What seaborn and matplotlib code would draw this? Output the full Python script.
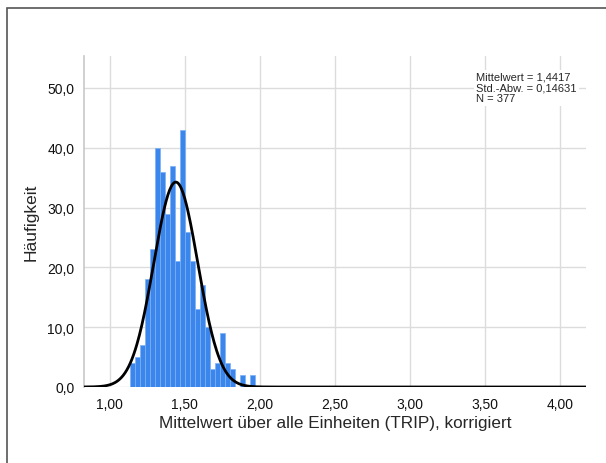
import numpy as np
import pandas as pd
import matplotlib.pyplot as plt
import seaborn as sns
from matplotlib.ticker import FuncFormatter
from matplotlib.patches import Rectangle

# Histogram of the mean values (bin width 1/30, first edge ~1.1333)
counts = [4, 5, 7, 18, 23, 40, 36, 29, 37, 21, 43, 26, 21,
          13, 17, 10, 3, 4, 9, 4, 3, 0, 2, 0, 2]
bin_start = 34 / 30
bin_width = 1 / 30

mean_val = 1.4417
std_val = 0.14631
n_val = 377

x_ticks = [1.0, 1.5, 2.0, 2.5, 3.0, 3.5, 4.0]
y_ticks = [0, 10, 20, 30, 40, 50]

edges = bin_start + bin_width * np.arange(len(counts) + 1)
centers = (edges[:-1] + edges[1:]) / 2
hist_df = pd.DataFrame({"x": centers, "n": counts})

# fitted normal curve, scaled to counts
xs = np.linspace(0.83, 4.18, 600)
ys = n_val * bin_width / (std_val * np.sqrt(2 * np.pi)) * np.exp(-0.5 * ((xs - mean_val) / std_val) ** 2)
curve_df = pd.DataFrame({"x": xs, "y": ys})

sns.set_style("white")
plt.rcParams["font.family"] = ["Liberation Sans", "DejaVu Sans"]

fig = plt.figure(figsize=(6.06, 4.64), dpi=100)
ax = fig.add_axes([84 / 606, 1 - 388 / 464, (586 - 84) / 606, (388 - 57) / 464])

sns.histplot(data=hist_df, x="x", weights="n", bins=edges.tolist(), stat="count",
             color="#3b86ec", edgecolor="#7db0f3", linewidth=0.5, alpha=1,
             ax=ax, zorder=2)
sns.lineplot(data=curve_df, x="x", y="y", color="black", linewidth=2.0,
             ax=ax, zorder=3)

ax.set_xlim(0.83, 4.175)
ax.set_ylim(0, 55.35)
ax.set_xticks(x_ticks)
ax.set_yticks(y_ticks)
ax.xaxis.set_major_formatter(FuncFormatter(lambda v, p: f"{v:.2f}".replace(".", ",")))
ax.yaxis.set_major_formatter(FuncFormatter(lambda v, p: f"{v:.1f}".replace(".", ",")))
ax.tick_params(length=0, labelsize=10, colors="#111111", pad=7)

ax.grid(True, color="#dcdcdc", linewidth=1)
ax.set_axisbelow(True)
for s in ["top", "right", "bottom"]:
    ax.spines[s].set_visible(False)
ax.spines["left"].set_color("#c8c8c8")
ax.spines["left"].set_linewidth(1.2)

ax.set_xlabel("Mittelwert über alle Einheiten (TRIP), korrigiert", fontsize=12.3, labelpad=3)
ax.set_ylabel("Häufigkeit", fontsize=12.5, labelpad=6)

stats_text = "\n".join([
    "Mittelwert = " + f"{mean_val:.4f}".replace(".", ","),
    "Std.-Abw. = " + f"{std_val:.5f}".replace(".", ","),
    f"N = {n_val}",
])
ax.text(3.445, 52.7, stats_text,
        fontsize=8.0, va="top", ha="left", linespacing=1.1, zorder=5,
        bbox=dict(facecolor="white", edgecolor="none", pad=1.5))

# outer frame of the chart
fig.patches.append(Rectangle((7 / 606, -0.1), 1.2, 1 - 9 / 464 + 0.1,
                             transform=fig.transFigure, fill=False,
                             edgecolor="#555555", linewidth=1.2))

fig.savefig("out.png", dpi=100)
